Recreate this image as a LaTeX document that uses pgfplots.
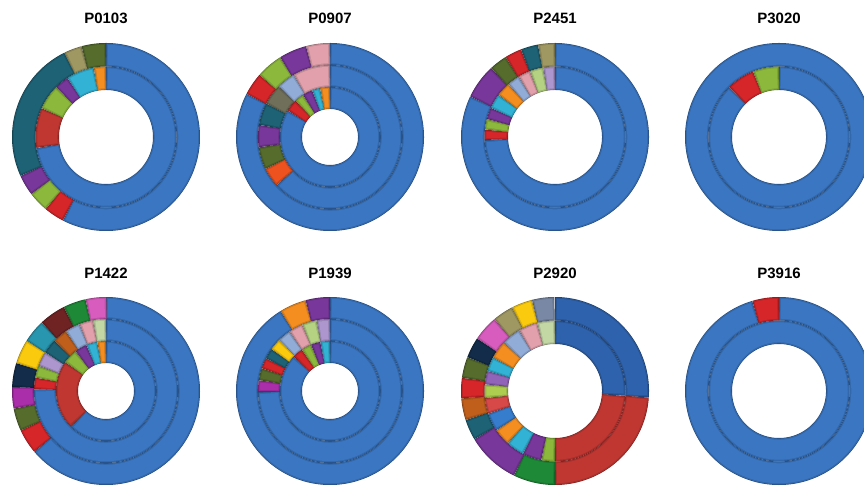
\documentclass[border=0pt]{standalone}
\usepackage{pgfplots}
\pgfplotsset{compat=1.18}
\usepackage{fontspec}
\setmainfont{Liberation Sans}

% palette
\definecolor{cBlue}{RGB}{58,118,194}
\definecolor{cDBlue}{RGB}{46,98,172}
\definecolor{cRed}{RGB}{214,38,42}
\definecolor{cDRed}{RGB}{192,55,50}
\definecolor{cGreen}{RGB}{140,185,60}
\definecolor{cPurple}{RGB}{120,55,155}
\definecolor{cLtPurple}{RGB}{145,100,185}
\definecolor{cAqua}{RGB}{50,178,212}
\definecolor{cOrange}{RGB}{245,142,32}
\definecolor{cTeal}{RGB}{30,98,118}
\definecolor{cOlive}{RGB}{85,108,45}
\definecolor{cKhaki}{RGB}{160,152,98}
\definecolor{cPink}{RGB}{225,160,172}
\definecolor{cLtBlue}{RGB}{145,172,215}
\definecolor{cLavender}{RGB}{172,150,205}
\definecolor{cLtGreen}{RGB}{180,210,130}
\definecolor{cPaleGreen}{RGB}{195,215,165}
\definecolor{cMaroon}{RGB}{112,35,35}
\definecolor{cDkGreen}{RGB}{30,138,55}
\definecolor{cMagenta}{RGB}{170,45,170}
\definecolor{cPinkMag}{RGB}{215,92,190}
\definecolor{cYellow}{RGB}{250,202,15}
\definecolor{cNavy}{RGB}{18,44,74}
\definecolor{cGray}{RGB}{112,112,90}
\definecolor{cBrown}{RGB}{192,95,28}
\definecolor{cOrRed}{RGB}{238,82,30}
\definecolor{cGrayBlue}{RGB}{120,136,165}
\definecolor{cMedBlue}{RGB}{55,125,205}
\definecolor{cLtRed}{RGB}{215,72,72}
\definecolor{cLime}{RGB}{172,205,80}
\definecolor{cTeal2}{RGB}{40,150,175}

% One shaded layer of the current segment: #1 colour, #2 width taken off, #3 end inset (pt)
\newcommand\seglayer[3]{%
  \pgfmathsetmacro\lw{\wout-#2}%
  \pgfmathsetmacro\ins{\s>99.9 ? 0 : min(#3,0.3*\arclen)/\rmid*57.2958}%
  \pgfmathsetmacro\lo{\bb+\ins}%
  \pgfmathsetmacro\hi{\aa-\ins}%
  \edef\cmd{\noexpand\addplot[draw=#1, line width=\lw pt, domain=\lo:\hi, samples=\n]
      ({\cx+\rmid*cos(x)},{\cy+\rmid*sin(x)});}\cmd
}

% One ring of a doughnut.
% #1,#2 centre; #3,#4 inner and outer radius; #5 list of percent/colour,
% laid out clockwise from twelve o'clock.
\newcommand\ring[5]{%
  \gdef\acc{0}%
  \def\cx{#1}\def\cy{#2}%
  \pgfmathsetmacro\rmid{(#3+#4)/2}%
  \pgfmathsetmacro\wout{#4-#3}%
  \foreach \s/\c in {#5}{%
    \pgfmathsetmacro\aa{90-3.6*\acc}%
    \pgfmathsetmacro\bb{90-3.6*(\acc+\s)}%
    \pgfmathsetmacro\arclen{\rmid*(0.0628319*\s)}%
    \pgfmathtruncatemacro\n{max(6,ceil(3*\s))}%
    \seglayer{\c!62!black}{0}{0}%
    \seglayer{\c!88!black}{1.1}{0.55}%
    \seglayer{\c}{3.6}{1.8}%
    \pgfmathsetmacro\t{\acc+\s}\xdef\acc{\t}%
  }%
}

% every doughnut gets its own full-frame axis
\pgfplotsset{frame/.style={at={(0pt,0pt)}, anchor=south west, scale only axis,
  width=864pt, height=485pt, xmin=0, xmax=864, ymin=0, ymax=485,
  hide axis, clip=true}}
\tikzset{ttl/.style={font=\bfseries\fontsize{15}{18}\selectfont}}

\begin{document}
\begin{tikzpicture}
\useasboundingbox (0,0) rectangle (864pt,485pt);

\begin{axis}[frame]% P0103
\ring{106}{348}{70.5}{94}{57.6/cBlue,3.5/cRed,3.5/cGreen,3.6/cPurple,24.5/cTeal,3.1/cKhaki,4.2/cOlive}
\ring{106}{348}{47}{70.5}{72.5/cBlue,9.2/cDRed,5.8/cGreen,3.3/cPurple,6.4/cAqua,2.8/cOrange}
\node[ttl] at (axis cs:106,466.3) {P0103};
\end{axis}

\begin{axis}[frame]% P0907
\ring{330}{348}{72}{94}{82.6/cBlue,3.9/cRed,4.6/cGreen,4.8/cPurple,4.1/cPink}
\ring{330}{348}{50}{72}{63.3/cBlue,4.4/cOrRed,5.0/cOlive,5.0/cPurple,5.0/cTeal,4.7/cGray,4.2/cLtBlue,8.4/cPink}
\ring{330}{348}{28}{50}{83.9/cBlue,4.0/cRed,3.0/cGreen,3.3/cPurple,2.6/cAqua,3.2/cOrange}
\node[ttl] at (axis cs:330,466.3) {P0907};
\end{axis}

\begin{axis}[frame]% P2451
\ring{555}{348}{70.5}{94}{82.1/cBlue,6.0/cPurple,3.1/cOlive,2.9/cRed,3.0/cTeal,2.9/cKhaki}
\ring{555}{348}{47}{70.5}{74.3/cBlue,2.4/cRed,2.4/cGreen,2.7/cPurple,3.4/cAqua,3.3/cOrange,2.9/cLtBlue,2.8/cPink,3.1/cLtGreen,2.7/cLavender}
\node[ttl] at (axis cs:555,466.3) {P2451};
\end{axis}

\begin{axis}[frame]% P3020
\ring{779}{348}{70.5}{94}{100/cBlue}
\ring{779}{348}{47}{70.5}{87.5/cBlue,6.5/cRed,6.0/cGreen}
\node[ttl] at (axis cs:779,466.3) {P3020};
\end{axis}

\begin{axis}[frame]% P1422
\ring{106}{94}{72}{94}{63.8/cBlue,4.3/cRed,3.9/cOlive,3.7/cMagenta,4.1/cNavy,4.2/cYellow,4.0/cTeal2,4.6/cMaroon,3.9/cDkGreen,3.6/cPinkMag}
\ring{106}{94}{50}{72}{75.4/cBlue,2.6/cRed,2.7/cGreen,3.3/cLavender,3.3/cTeal,3.3/cBrown,3.4/cLtBlue,3.1/cPink,2.9/cPaleGreen}
\ring{106}{94}{28}{50}{62.4/cBlue,22.4/cDRed,4.8/cGreen,4.0/cPurple,3.6/cAqua,2.8/cOrange}
\node[ttl] at (axis cs:106,211.5) {P1422};
\end{axis}

\begin{axis}[frame]% P1939
\ring{330}{94}{72}{94}{91.2/cBlue,4.6/cOrange,4.2/cPurple}
\ring{330}{94}{50}{72}{74.8/cBlue,2.6/cMagenta,2.7/cOlive,2.4/cRed,2.4/cTeal,2.6/cYellow,3.0/cLtBlue,3.2/cPink,3.3/cLtGreen,3.0/cLavender}
\ring{330}{94}{28}{50}{87.1/cBlue,3.4/cRed,3.3/cGreen,3.1/cPurple,3.1/cAqua}
\node[ttl] at (axis cs:330,211.5) {P1939};
\end{axis}

\begin{axis}[frame]% P2920
\ring{555}{94}{70.5}{94}{26.1/cDBlue,23.9/cDRed,7.2/cDkGreen,9.2/cPurple,3.6/cTeal,3.75/cBrown,3.5/cRed,3.6/cOlive,3.6/cNavy,4.4/cPinkMag,3.6/cKhaki,3.6/cYellow,3.85/cGrayBlue}
\ring{555}{94}{47}{70.5}{26.1/cDBlue,23.9/cDRed,3.1/cGreen,4.4/cPurple,4.2/cAqua,3.9/cOrange,4.2/cMedBlue,3.6/cLtRed,3.1/cLime,3.1/cLtPurple,3.3/cAqua,4.2/cOrange,4.4/cLtBlue,4.4/cPink,4.1/cPaleGreen}
\node[ttl] at (axis cs:555,211.5) {P2920};
\end{axis}

\begin{axis}[frame]% P3916
\ring{779}{94}{70.5}{94}{95.4/cBlue,4.6/cRed}
\ring{779}{94}{47}{70.5}{100/cBlue}
\node[ttl] at (axis cs:779,211.5) {P3916};
\end{axis}

\end{tikzpicture}
\end{document}
